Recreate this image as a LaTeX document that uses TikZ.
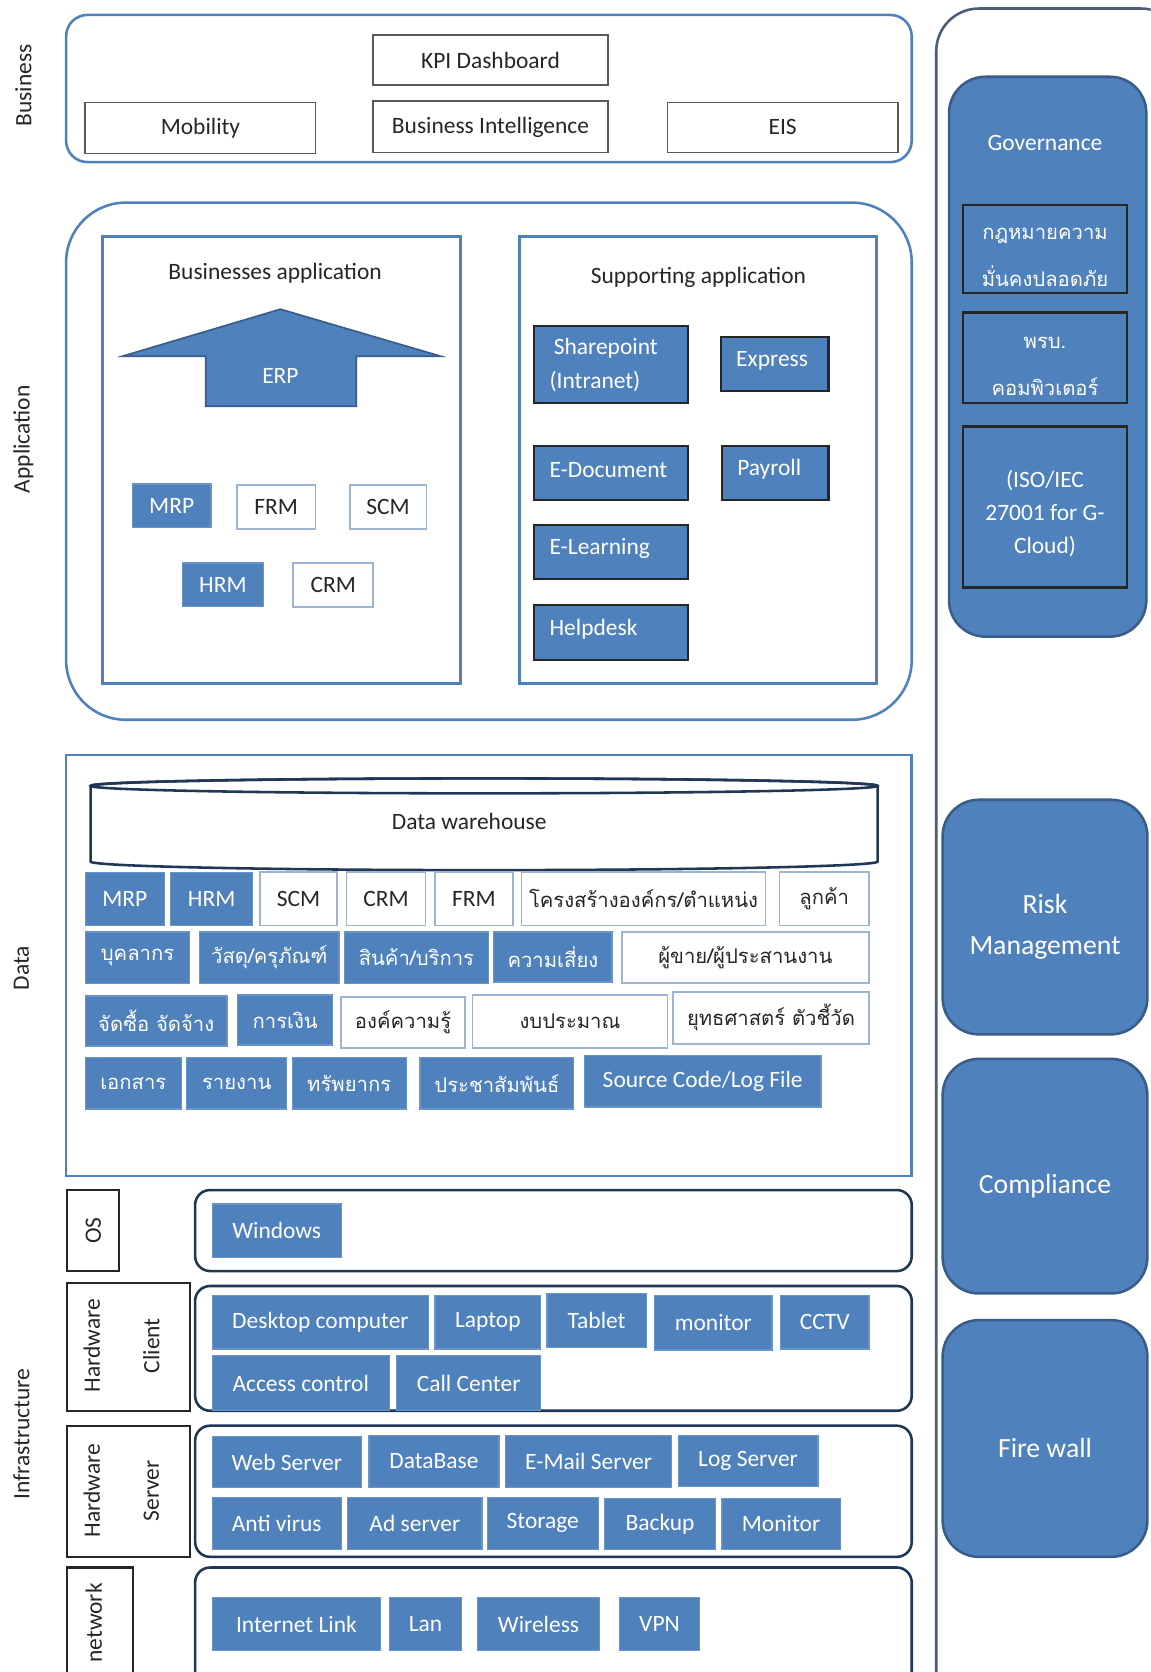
\documentclass[tikz,border=0pt]{standalone}
\usepackage{fontspec}
\setmainfont{Carlito}
\newfontfamily\thaifont[Script=Thai]{Loma}
\usetikzlibrary{fit,positioning}

\definecolor{officeblue}{HTML}{4F81BD}
\definecolor{officeline}{HTML}{385D8A}
\definecolor{navyline}{HTML}{1F3654}
\definecolor{paleline}{HTML}{9DB4D3}
\definecolor{labeltext}{HTML}{262626}

\newcommand{\cellsize}{\fontsize{11}{13}\selectfont}
\newcommand{\thai}[1]{{\thaifont\fontsize{9.5}{11}\selectfont #1}}

\tikzset{
  layer/.style={draw=officeblue, line width=1.2pt, inner sep=0pt},
  infrarow/.style={draw=navyline, line width=1.2pt, rounded corners=7pt, inner sep=0pt},
  sidelabel/.style={rotate=90, text=labeltext, font=\cellsize},
  tagbox/.style={draw=black!85, line width=1pt, inner sep=0pt},
  celltext/.style={font=\cellsize, align=center, inner sep=0pt},
  bizcell/.style={draw=black!65, line width=0.8pt, fill=white, inner sep=0pt,
    label={[celltext, text=labeltext]center:#1}},
  whitecell/.style={draw=paleline, line width=0.8pt, fill=white, inner sep=0pt,
    label={[celltext, text=labeltext]center:#1}},
  bluecell/.style={fill=officeblue, draw=officeblue!85!white, line width=0.6pt, inner sep=0pt,
    label={[celltext, text=white]center:#1}},
  darkbox/.style={fill=officeblue, draw=black!85, line width=1pt, inner sep=0pt},
  darkcell/.style={darkbox,
    label={[celltext, text=white, align=left, anchor=west, xshift=7.5pt, yshift=1.5pt]west:#1}},
  govtext/.style={celltext, text=white, yshift=-4pt},
  pillar/.style={fill=officeblue, draw=officeline, line width=1.2pt, rounded corners=17pt, inner sep=0pt},
  pillartext/.style={celltext, text=white, yshift=-4.5pt, font=\fontsize{13}{19}\selectfont}
}

\begin{document}
\begin{tikzpicture}[x=0.5pt,y=-0.5pt]
\useasboundingbox (0,0) rectangle (1079,1568);
\clip (0,0) rectangle (1079,1568);
\fill[white] (0,0) rectangle (1079,1568);

% layer names
\node[sidelabel] (lblbus) at (22,80) {Business};
\node[sidelabel] (lblapp) at (22,412) {Application};
\node[sidelabel] (lbldata) at (20,908) {Data};
\node[sidelabel] (lblinfra) at (20,1345) {Infrastructure};

% right column
\draw[draw=navyline!80, line width=1.2pt, rounded corners=20pt] (878,8) rectangle (1110,1620);
\node[pillar, fit={(890,72) (1075,597)}] (governance) {};
\node[text=white, font=\fontsize{11}{13}\selectfont] (govtitle) at (980,134) {Governance};
\node[darkbox, fit={(903,192) (1057,275)},
  label={[govtext, font=\thaifont\fontsize{9.5}{22}\selectfont]center:กฎหมายความ\\มั่นคงปลอดภัย}] (lawbox) {};
\node[darkbox, fit={(903,293) (1057,378)},
  label={[govtext, font=\thaifont\fontsize{9.5}{22}\selectfont]center:พรบ.\\คอมพิวเตอร์}] (actbox) {};
\node[darkbox, fit={(903,400) (1057,551)},
  label={[govtext, yshift=1pt, font=\fontsize{11}{15.5}\selectfont]center:(ISO/IEC\\27001 for G-\\Cloud)}] (isobox) {};
\node[pillar, fit={(884,750) (1076,970)}, label={[pillartext]center:Risk\\Management}] (risk) {};
\node[pillar, fit={(884,993) (1076,1213)}, label={[pillartext]center:Compliance}] (compliance) {};
\node[pillar, fit={(884,1238) (1076,1460)}, label={[pillartext]center:Fire wall}] (firewall) {};

% business layer
\node[layer, rounded corners=10pt, fit={(62,14) (855,152)}] (business) {};
\node[bizcell={KPI Dashboard}, fit={(350,33) (570,80)}] (kpi) {};
\node[bizcell={Mobility}, fit={(80,96) (296,144)}] (mobility) {};
\node[bizcell={Business Intelligence}, fit={(350,95) (570,143)}] (bi) {};
\node[bizcell={EIS}, fit={(626,96) (842,143)}] (eis) {};

% application layer
\node[layer, rounded corners=28pt, fit={(62,190) (855,675)}] (application) {};
\node[layer, fit={(96,222) (432,641)}] (busapp) {};
\node[text=labeltext, font=\cellsize] (busapptitle) at (258,256) {Businesses application};
\filldraw[fill=officeblue, draw=officeline, line width=0.8pt]
  (263,290) -- (413,334) -- (334,334) -- (334,381) -- (193,381) -- (193,334) -- (115,334) -- cycle;
\node[text=white, font=\cellsize] (erp) at (263,353) {ERP};
\node[bluecell={MRP}, fit={(124,454) (198,495)}] (amrp) {};
\node[whitecell={FRM}, fit={(222,455) (296,496)}] (afrm) {};
\node[whitecell={SCM}, fit={(328,455) (400,496)}] (ascm) {};
\node[bluecell={HRM}, fit={(171,528) (247,569)}] (ahrm) {};
\node[whitecell={CRM}, fit={(275,528) (350,569)}] (acrm) {};

\node[layer, fit={(487,222) (822,641)}] (supapp) {};
\node[text=labeltext, font=\cellsize] (supapptitle) at (655,260) {Supporting application};
\node[darkbox, fit={(501,306) (645,378)},
  label={[celltext, text=white, align=left, anchor=west, xshift=7.5pt, font=\fontsize{11}{16}\selectfont]west:\hspace*{2pt}Sharepoint\\(Intranet)}] (sharepoint) {};
\node[darkcell={Express}, fit={(676,316) (777,367)}] (express) {};
\node[darkcell={E-Document}, fit={(501,418) (645,469)}] (edoc) {};
\node[darkcell={Payroll}, fit={(677,418) (777,469)}] (payroll) {};
\node[darkcell={E-Learning}, fit={(501,492) (645,543)}] (elearn) {};
\node[darkcell={Helpdesk}, fit={(501,567) (645,619)}] (helpdesk) {};

% data layer
\node[layer, fit={(62,708) (855,1103)}] (data) {};
\filldraw[fill=white, draw=navyline, line width=1.2pt]
  (85,737) -- (85,808) arc[start angle=180, end angle=360, x radius=184.5pt, y radius=4pt]
  -- (823,737) arc[start angle=0, end angle=180, x radius=184.5pt, y radius=3.5pt] -- cycle;
\draw[navyline, line width=1.2pt] (454,737) ellipse[x radius=184.5pt, y radius=3.5pt];
\node[text=labeltext, font=\cellsize] (warehouse) at (440,770) {Data warehouse};

\node[bluecell={MRP}, fit={(80,818) (154,868)}] (dmrp) {};
\node[bluecell={HRM}, fit={(160,818) (237,868)}] (dhrm) {};
\node[whitecell={SCM}, fit={(244,818) (316,868)}] (dscm) {};
\node[whitecell={CRM}, fit={(325,818) (399,868)}] (dcrm) {};
\node[whitecell={FRM}, fit={(408,818) (481,868)}] (dfrm) {};
\node[whitecell={\thai{โครงสร้างองค์กร/ตำแหน่ง}}, fit={(489,818) (718,868)}] (orgchart) {};
\node[whitecell={\thai{ลูกค้า}}, fit={(731,818) (815,868)}] (customer) {};

\node[bluecell={\thai{บุคลากร}}, fit={(80,874) (178,922)}] (staff) {};
\node[bluecell={\thai{วัสดุ/ครุภัณฑ์}}, fit={(187,874) (318,922)}] (material) {};
\node[bluecell={\thai{สินค้า/บริการ}}, fit={(323,874) (458,922)}] (product) {};
\node[bluecell={\thai{ความเสี่ยง}}, fit={(463,874) (574,921)}] (riskdata) {};
\node[whitecell={\thai{ผู้ขาย/ผู้ประสานงาน}}, fit={(583,874) (815,922)}] (vendor) {};

\node[bluecell={\thai{จัดซื้อ จัดจ้าง}}, fit={(80,934) (213,981)}] (procure) {};
\node[bluecell={\thai{การเงิน}}, fit={(223,933) (312,980)}] (finance) {};
\node[whitecell={\thai{องค์ความรู้}}, fit={(320,935) (436,983)}] (knowledge) {};
\node[whitecell={\thai{งบประมาณ}}, fit={(443,933) (626,983)}] (budget) {};
\node[whitecell={\thai{ยุทธศาสตร์ ตัวชี้วัด}}, fit={(631,930) (815,979)}] (strategy) {};

\node[bluecell={\thai{เอกสาร}}, fit={(80,992) (170,1040)}] (document) {};
\node[bluecell={\thai{รายงาน}}, fit={(175,992) (269,1040)}] (report) {};
\node[bluecell={\thai{ทรัพยากร}}, fit={(274,992) (381,1040)}] (resource) {};
\node[bluecell={\thai{ประชาสัมพันธ์}}, fit={(394,992) (538,1040)}] (pr) {};
\node[bluecell={Source Code/Log File}, fit={(548,990) (770,1038)}] (sourcecode) {};

% infrastructure layer
\node[tagbox, fit={(63,1116) (112,1192)}] (ostag) {};
\node[sidelabel] at (ostag.center) {OS};
\node[infrarow, fit={(183,1116) (855,1192)}] (osrow) {};
\node[bluecell={Windows}, fit={(199,1129) (320,1179)}] (windows) {};

\node[tagbox, fit={(63,1203) (178,1323)}] (clienttag) {};
\node[sidelabel] at (86,1262) {Hardware};
\node[sidelabel] at (142,1262) {Client};
\node[infrarow, fit={(183,1206) (855,1323)}] (clientrow) {};
\node[bluecell={Desktop computer}, fit={(199,1215) (402,1265)}] (desktop) {};
\node[bluecell={Laptop}, fit={(408,1215) (507,1265)}] (laptop) {};
\node[bluecell={Tablet}, fit={(513,1213) (606,1264)}] (tablet) {};
\node[bluecell={monitor}, fit={(614,1215) (724,1266)}] (monitorc) {};
\node[bluecell={CCTV}, fit={(732,1215) (815,1265)}] (cctv) {};
\node[bluecell={Access control}, fit={(199,1271) (365,1323)}] (access) {};
\node[bluecell={Call Center}, fit={(372,1271) (507,1323)}] (callcenter) {};

\node[tagbox, fit={(63,1337) (178,1460)}] (servertag) {};
\node[sidelabel] at (86,1398) {Hardware};
\node[sidelabel] at (142,1398) {Server};
\node[infrarow, fit={(183,1337) (855,1460)}] (serverrow) {};
\node[bluecell={Web Server}, fit={(199,1347) (339,1395)}] (web) {};
\node[bluecell={DataBase}, fit={(346,1346) (468,1395)}] (database) {};
\node[bluecell={E-Mail Server}, fit={(474,1346) (630,1395)}] (mail) {};
\node[bluecell={Log Server}, fit={(636,1346) (767,1394)}] (logsrv) {};
\node[bluecell={Anti virus}, fit={(199,1404) (320,1453)}] (antivirus) {};
\node[bluecell={Ad server}, fit={(326,1404) (452,1453)}] (adserver) {};
\node[bluecell={Storage}, fit={(457,1404) (561,1453)}] (storage) {};
\node[bluecell={Backup}, fit={(567,1405) (671,1453)}] (backup) {};
\node[bluecell={Monitor}, fit={(677,1405) (788,1453)}] (monitors) {};

\node[tagbox, fit={(63,1470) (125,1590)}] (nettag) {};
\node[sidelabel] at (88,1522) {network};
\node[infrarow, fit={(183,1470) (855,1590)}] (netrow) {};
\node[bluecell={Internet Link}, fit={(199,1498) (357,1548)}] (internet) {};
\node[bluecell={Lan}, fit={(365,1498) (433,1548)}] (lan) {};
\node[bluecell={Wireless}, fit={(448,1498) (562,1548)}] (wireless) {};
\node[bluecell={VPN}, fit={(581,1498) (656,1548)}] (vpn) {};
\end{tikzpicture}
\end{document}
